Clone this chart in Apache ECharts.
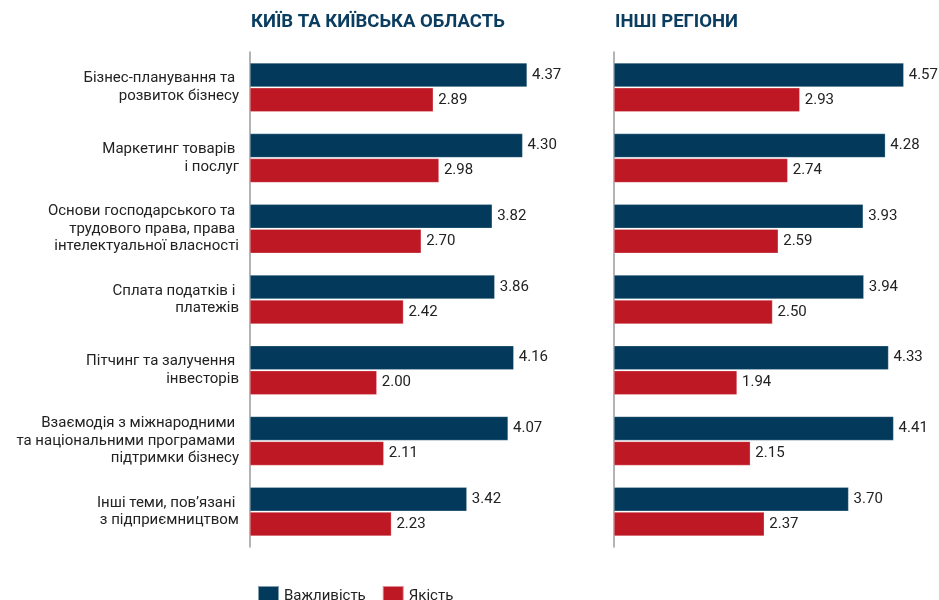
<!DOCTYPE html>
<html>
<head>
<meta charset="utf-8">
<script src="https://cdn.jsdelivr.net/npm/echarts@6/dist/echarts.min.js"></script>
<style>
  html, body { margin: 0; padding: 0; background: #fff; }
  #chart { width: 939px; height: 600px; }
</style>
</head>
<body>
<div id="chart"></div>
<script>
const categories = [
  "Бізнес-планування та \nрозвиток бізнесу",
  "Маркетинг товарів \nі послуг",
  "Основи господарського та \nтрудового права, права \nінтелектуальної власності",
  "Сплата податків і \nплатежів",
  "Пітчинг та залучення \nінвесторів",
  "Взаємодія з міжнародними \nта національними програмами \nпідтримки бізнесу",
  "Інші теми, пов’язані \nз підприємництвом"
];
const panelTitles = ["КИЇВ ТА КИЇВСЬКА ОБЛАСТЬ", "ІНШІ РЕГІОНИ"];
const seriesNames = ["Важливість", "Якість"];

const kyivImportance = [4.37, 4.30, 3.82, 3.86, 4.16, 4.07, 3.42];
const kyivQuality = [2.89, 2.98, 2.70, 2.42, 2.00, 2.11, 2.23];
const otherImportance = [4.57, 4.28, 3.93, 3.94, 4.33, 4.41, 3.70];
const otherQuality = [2.93, 2.74, 2.59, 2.50, 1.94, 2.15, 2.37];

const blue = "#033a5c";
const red = "#bf1825";
const font = "Roboto";

const chart = echarts.init(document.getElementById("chart"), null, { renderer: "canvas" });

function barSeries(name, data, color, idx) {
  return {
    name: name,
    type: "bar",
    xAxisIndex: idx,
    yAxisIndex: idx,
    data: data,
    barWidth: 24,
    barGap: "4%",
    itemStyle: { color: color, borderColor: "rgba(255,255,255,0.5)", borderWidth: 0.5 },
    label: {
      show: true,
      position: "right",
      distance: 5,
      fontFamily: font,
      fontSize: 15,
      color: "#222",
      formatter: p => p.value.toFixed(2)
    }
  };
}

const xAxisBase = {
  type: "value",
  min: 0,
  max: 5,
  show: false
};

const yAxisBase = {
  type: "category",
  data: categories,
  inverse: true,
  axisTick: { show: false },
  axisLine: { show: true, lineStyle: { color: "#9a9a9a", width: 1.5 } },
  splitLine: { show: false }
};

chart.setOption({
  animation: false,
  title: [
    {
      text: panelTitles[0], left: 246, top: 8,
      textStyle: { fontFamily: font, fontSize: 18.5, fontWeight: "bold", color: "#0b3d61" }
    },
    {
      text: panelTitles[1], left: 610, top: 8,
      textStyle: { fontFamily: font, fontSize: 18.5, fontWeight: "bold", color: "#0b3d61" }
    }
  ],
  legend: {
    data: seriesNames,
    left: 257,
    top: 585,
    padding: 0,
    itemWidth: 21,
    itemHeight: 20,
    itemGap: 16,
    icon: "rect",
    textStyle: { fontFamily: font, fontSize: 15, color: "#222" }
  },
  grid: [
    { left: 250, top: 52, width: 317, height: 495 },
    { left: 614, top: 52, width: 317, height: 495 }
  ],
  xAxis: [
    Object.assign({ gridIndex: 0 }, xAxisBase),
    Object.assign({ gridIndex: 1 }, xAxisBase)
  ],
  yAxis: [
    Object.assign({ gridIndex: 0 }, yAxisBase, {
      axisLabel: {
        show: true,
        margin: 11,
        fontFamily: font,
        fontSize: 15,
        lineHeight: 17.5,
        color: "#222",
        align: "right"
      }
    }),
    Object.assign({ gridIndex: 1 }, yAxisBase, { axisLabel: { show: false } })
  ],
  series: [
    barSeries(seriesNames[0], kyivImportance, blue, 0),
    barSeries(seriesNames[1], kyivQuality, red, 0),
    barSeries(seriesNames[0], otherImportance, blue, 1),
    barSeries(seriesNames[1], otherQuality, red, 1)
  ]
});
</script>
</body>
</html>
